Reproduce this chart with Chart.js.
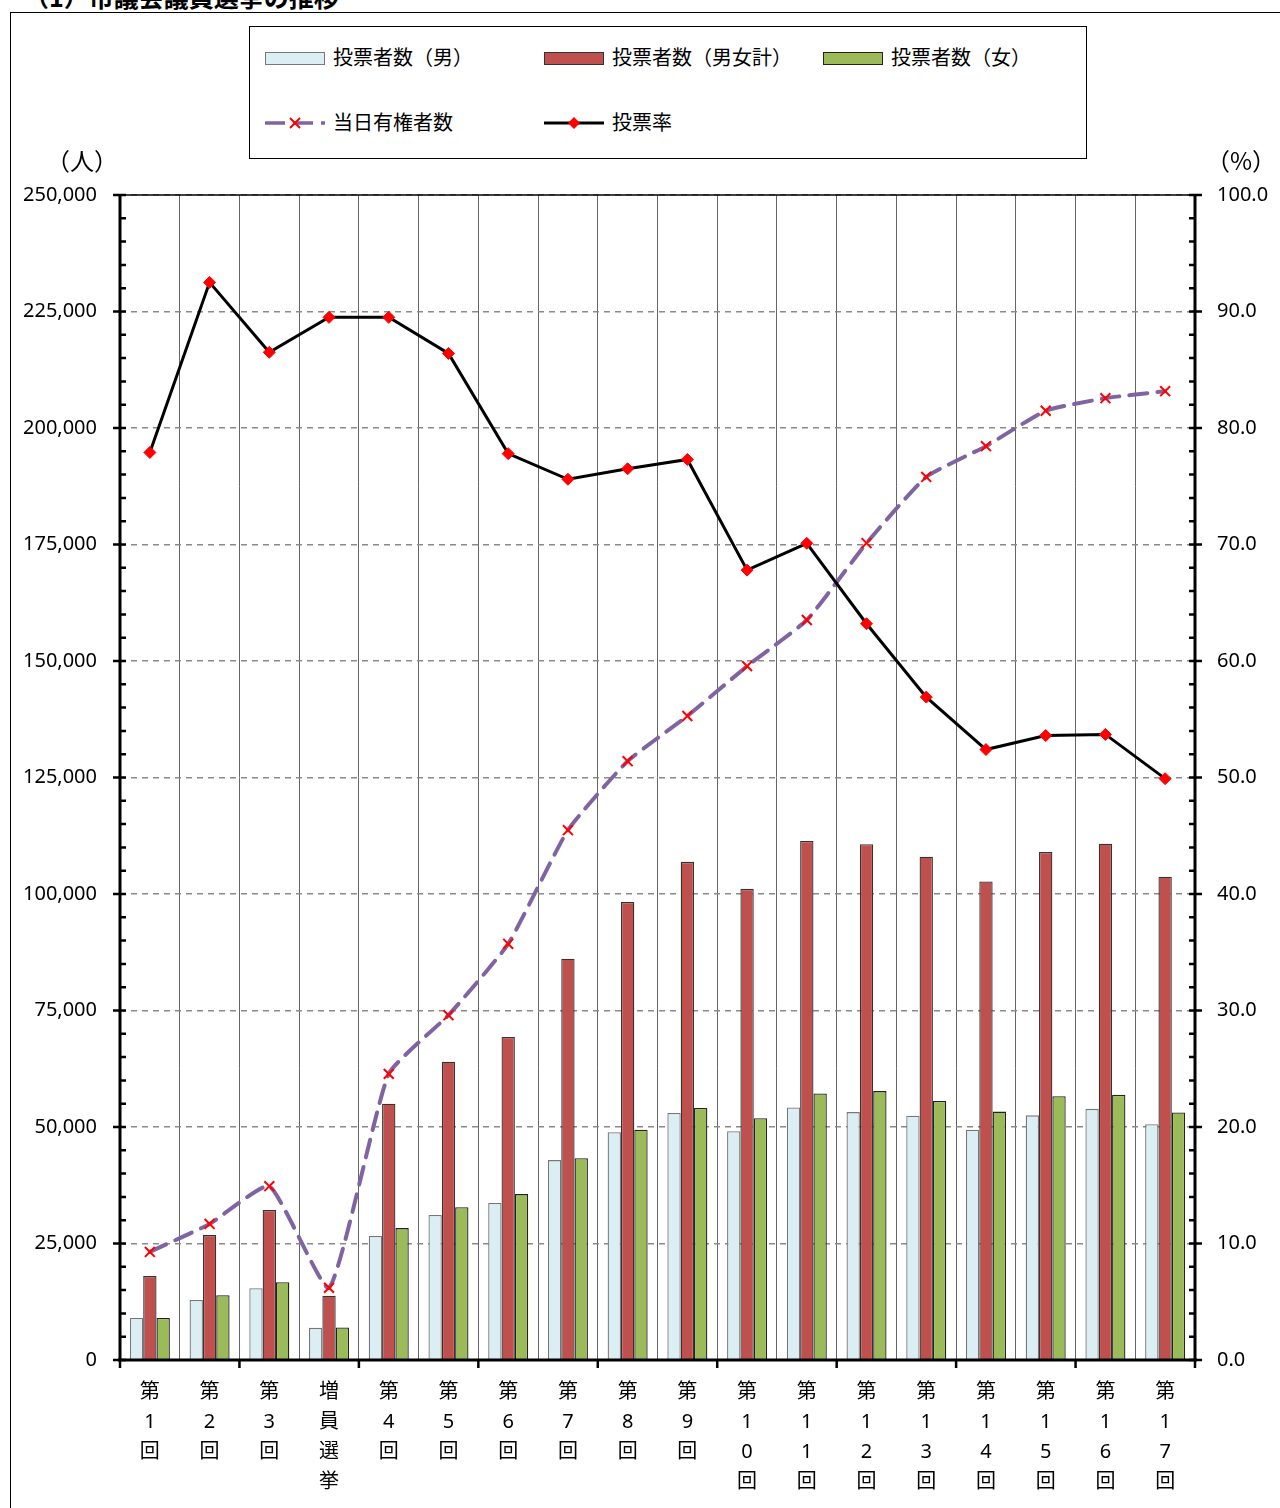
<!DOCTYPE html>
<html>
<head>
<meta charset="utf-8">
<script src="https://cdn.jsdelivr.net/npm/chart.js@4/dist/chart.umd.min.js"></script>
<style>
  body { margin: 0; width: 1280px; height: 1508px; overflow: hidden; background: #fff;
         font-family: "Noto Sans", "Noto Sans CJK JP", sans-serif; position: relative; }
  #frame { position: absolute; left: 10px; top: 12px; width: 1300px; height: 1520px; border: 1px solid #000; }
  #title { position: absolute; left: 24px; top: -16px; font: bold 25px/25px "Noto Sans CJK JP", sans-serif; white-space: nowrap; }
  #chart { position: absolute; left: 0; top: 0; }
  #legend { position: absolute; left: 249px; top: 26px; width: 838px; height: 133px; box-sizing: border-box;
            border: 1.5px solid #000; background: #fff; }
  .sw { position: absolute; width: 60px; height: 13px; box-sizing: border-box; }
  .lt { position: absolute; font: 20px/20px "Noto Sans CJK JP", sans-serif; white-space: nowrap; }
  .unit { position: absolute; font: 24px/24px "Noto Sans CJK JP", sans-serif; }
</style>
</head>
<body>
<div id="frame"></div>
<div id="title">（1）市議会議員選挙の推移</div>
<canvas id="chart" width="1280" height="1508"></canvas>
<div id="legend">
  <div class="sw" style="left:15px;top:25px;background:#DAEEF3;border:1px solid #777"></div>
  <div class="lt" style="left:83px;top:20px">投票者数（男）</div>
  <div class="sw" style="left:294px;top:25px;background:#C0504D;border:1px solid #333"></div>
  <div class="lt" style="left:362px;top:20px">投票者数（男女計）</div>
  <div class="sw" style="left:573px;top:25px;background:#9BBB59;border:1px solid #222"></div>
  <div class="lt" style="left:641px;top:20px">投票者数（女）</div>
  <svg style="position:absolute;left:15px;top:86px" width="60" height="20">
    <line x1="0" y1="10" x2="60" y2="10" stroke="#8064A2" stroke-width="3.5" stroke-dasharray="20 8"/>
    <path d="M25 5 L35 15 M35 5 L25 15" stroke="red" stroke-width="2"/>
  </svg>
  <div class="lt" style="left:83px;top:85px">当日有権者数</div>
  <svg style="position:absolute;left:294px;top:86px" width="60" height="20">
    <line x1="0" y1="10" x2="60" y2="10" stroke="#000" stroke-width="3"/>
    <path d="M30 4 L36 10 L30 16 L24 10 Z" fill="red"/>
  </svg>
  <div class="lt" style="left:362px;top:85px">投票率</div>
</div>
<div class="unit" style="left:46px;top:148px">（人）</div>
<div class="unit" style="left:1206px;top:148px">（%）</div>
<script>
const labels = [
  ["第", "1", "回"], ["第", "2", "回"], ["第", "3", "回"], ["増", "員", "選", "挙"],
  ["第", "4", "回"], ["第", "5", "回"], ["第", "6", "回"], ["第", "7", "回"],
  ["第", "8", "回"], ["第", "9", "回"], ["第", "1", "0", "回"], ["第", "1", "1", "回"],
  ["第", "1", "2", "回"], ["第", "1", "3", "回"], ["第", "1", "4", "回"], ["第", "1", "5", "回"],
  ["第", "1", "6", "回"], ["第", "1", "7", "回"]
];

const voters_male = [9000, 12900, 15400, 6900, 26600, 31100, 33700, 42900, 48900, 53000,
  49100, 54200, 53200, 52400, 49400, 52500, 53900, 50600];
const voters_total = [18000, 26800, 32200, 13800, 55000, 64000, 69300, 86100, 98300, 106900,
  101100, 111400, 110700, 108000, 102700, 109000, 110800, 103700];
const voters_female = [9000, 13900, 16700, 7000, 28300, 32800, 35600, 43300, 49400, 54100,
  51900, 57200, 57700, 55600, 53300, 56600, 56900, 53100];
const electorate = [23200, 29200, 37300, 15500, 61400, 74000, 89300, 113700, 128500, 138200,
  148900, 158800, 175300, 189500, 196100, 203700, 206400, 207900];
const turnout = [77.9, 92.5, 86.5, 89.5, 89.5, 86.4, 77.8, 75.6, 76.5, 77.3,
  67.8, 70.1, 63.2, 56.9, 52.4, 53.6, 53.7, 49.9];

const tickFont = { family: '"Noto Sans", "Noto Sans CJK JP", sans-serif', size: 20 };

// axis lines and the small tick marks (Excel style, inside the plot)
const axisMarks = {
  id: "axisMarks",
  afterDraw(chart) {
    const { ctx, chartArea: a, scales } = chart;
    const y = scales.y, y1 = scales.y1, x = scales.x;
    ctx.save();
    ctx.strokeStyle = "#000";
    ctx.lineWidth = 1.5;
    ctx.beginPath();
    ctx.moveTo(a.left, a.top); ctx.lineTo(a.right, a.top);
    ctx.stroke();
    ctx.lineWidth = 3;
    ctx.beginPath();
    ctx.moveTo(a.left, a.top); ctx.lineTo(a.left, a.bottom);
    ctx.moveTo(a.right, a.top); ctx.lineTo(a.right, a.bottom);
    ctx.moveTo(a.left - 2, a.bottom); ctx.lineTo(a.right + 2, a.bottom);
    ctx.stroke();
    ctx.lineWidth = 2.5;
    ctx.beginPath();
    for (let v = 0; v <= 250000; v += 5000) {
      const py = y.getPixelForValue(v);
      ctx.moveTo(v % 25000 === 0 ? a.left - 7 : a.left, py);
      ctx.lineTo(a.left + 6, py);
    }
    for (let p = 0; p <= 100; p += 2) {
      const py = y1.getPixelForValue(p);
      ctx.moveTo(p % 10 === 0 ? a.right + 7 : a.right, py);
      ctx.lineTo(a.right - 6, py);
    }
    const half = (x.getPixelForValue(1) - x.getPixelForValue(0)) / 2;
    for (let i = 0; i <= labels.length; i += 2) {
      const px = x.getPixelForValue(i) - half;
      ctx.moveTo(px, a.bottom);
      ctx.lineTo(px, a.bottom + 8);
    }
    ctx.stroke();
    ctx.restore();
  }
};

const bar = (label, data, bg, border) => ({
  type: "bar", label, data, backgroundColor: bg, borderColor: border,
  borderWidth: 1.3, yAxisID: "y", order: 2,
  categoryPercentage: 0.67, barPercentage: 1.0
});

new Chart(document.getElementById("chart"), {
  data: {
    labels,
    datasets: [
      bar("投票者数（男）", voters_male, "#DAEEF3", "#777"),
      bar("投票者数（男女計）", voters_total, "#C0504D", "#333"),
      bar("投票者数（女）", voters_female, "#9BBB59", "#222"),
      {
        type: "line", label: "当日有権者数", data: electorate, yAxisID: "y", order: 1,
        borderColor: "#8064A2", borderWidth: 4, borderDash: [18, 10], borderCapStyle: "round",
        tension: 0.15, pointStyle: "crossRot", pointRadius: 7,
        pointBorderColor: "red", pointBackgroundColor: "red", pointBorderWidth: 2
      },
      {
        type: "line", label: "投票率", data: turnout, yAxisID: "y1", order: 0,
        borderColor: "#000", borderWidth: 3, tension: 0,
        pointStyle: "rectRot", pointRadius: 6,
        pointBorderColor: "red", pointBackgroundColor: "red", pointBorderWidth: 1
      }
    ]
  },
  options: {
    responsive: false,
    animation: false,
    devicePixelRatio: 1,
    layout: { padding: { top: 195, left: 0, right: 0, bottom: 0 } },
    plugins: { legend: { display: false }, tooltip: { enabled: false } },
    scales: {
      x: {
        offset: true,
        grid: { offset: true, color: "#666", lineWidth: 1, drawTicks: false },
        border: { display: false },
        ticks: { font: { ...tickFont, lineHeight: 1.5 }, color: "#000", padding: 17, maxRotation: 0, autoSkip: false },
        afterFit: (s) => { s.height = 148; }
      },
      y: {
        position: "left", min: 0, max: 250000,
        grid: { color: "#8a8a8a", lineWidth: 1.5, drawTicks: false },
        border: { display: false, dash: [6, 5] },
        ticks: { stepSize: 25000, font: tickFont, color: "#000", padding: 23,
                 callback: (v) => v.toLocaleString("en-US") },
        afterFit: (s) => { s.width = 120; }
      },
      y1: {
        position: "right", min: 0, max: 100,
        grid: { drawOnChartArea: false, drawTicks: false },
        border: { display: false },
        ticks: { stepSize: 10, font: tickFont, color: "#000", padding: 22,
                 callback: (v) => v.toFixed(1) },
        afterFit: (s) => { s.width = 85; }
      }
    }
  },
  plugins: [axisMarks]
});
</script>
</body>
</html>
